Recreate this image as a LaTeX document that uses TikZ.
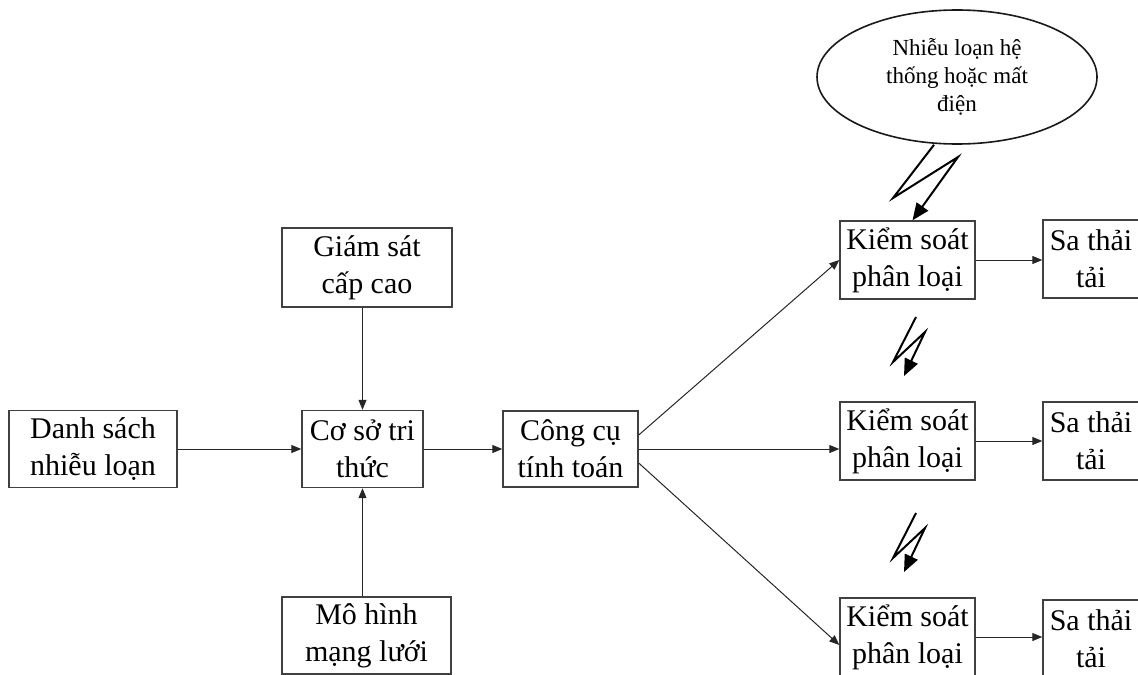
\documentclass[tikz,border=0pt]{standalone}
\usepackage{fontspec}
\setmainfont{Liberation Serif}
\usetikzlibrary{arrows.meta,shapes.geometric}
\begin{document}
\begin{tikzpicture}[x=.5pt,y=-.5pt,
	hop/.style={draw=black!75,line width=.7pt,align=center,inner sep=0pt,minimum height=38.5pt,font=\fontsize{15}{18.5}\selectfont},
	mui/.style={-{Triangle[length=5pt,width=4pt]},line width=.5pt,draw=black!85},
	tiaset/.style={-{Triangle[length=8.5pt,width=7pt]},line width=1pt}]
	
	\useasboundingbox (0,0) rectangle (1138,674);
	\def\wkiem{67.5pt}
	\def\wsa{48pt}
	\node[hop,minimum width=84pt] (ds) at (93,449) {Danh sách\\nhiễu loạn};
	\node[hop,minimum width=60.5pt] (coso) at (362.5,449) {Cơ sở tri\\thức};
	\node[hop,minimum width=85pt,minimum height=39.5pt] (gs) at (367,267.5) {Giám sát\\cấp cao};
	\node[hop,minimum width=84.5pt] (mh) at (366.5,635.5) {Mô hình\\mạng lưới};
	\node[hop,minimum width=67.5pt,minimum height=38pt] (cc) at (570.5,449) {Công cụ\\tính toán};
	\node[ellipse,draw=black!90,line width=.8pt,minimum width=140pt,minimum height=67pt,inner sep=0pt,align=center,font=\fontsize{11.5}{14}\selectfont] (su) at (957,77) {Nhiễu loạn hệ\\thống hoặc mất\\điện};
	\foreach \i/\y/\ys in {1/260/259,2/441/441,3/637/639}{
		\node[hop,minimum width=\wkiem,minimum height=39pt] (kiem\i) at (907.5,\y) {Kiểm soát\\phân loại};
		\node[hop,minimum width=\wsa,minimum height=39pt] (sa\i) at (1091,\ys) {Sa thải\\tải};
		\draw[mui] (kiem\i.east) -- (kiem\i.east -| sa\i.west);
	}
	\draw[mui] (ds) -- (coso);
	\draw[mui] (coso.north |- gs.south) -- (coso.north);
	\draw[mui] (coso.south |- mh.north) -- (coso.south);
	\draw[mui] (coso) -- (cc);
	\draw[mui] ([yshift=7pt]cc.east) -- (kiem1.west);
	\draw[mui] (cc.east) -- (cc.east -| kiem2.west);
	\draw[mui] ([yshift=-7pt]cc.east) -- ([yshift=-4pt]kiem3.west);
	%Tia sét
	\draw[tiaset,line join=miter] ([xshift=-11.5pt]su.south) -- (893,198) -- (958,157) -- ([xshift=2.5pt]kiem1.north);
	\foreach \y in {317,513}
		\draw[tiaset] (916,\y) -- ++(-23,45) -- ++(32,-30) -- ++(-21,44);
	
\end{tikzpicture}
\end{document}
